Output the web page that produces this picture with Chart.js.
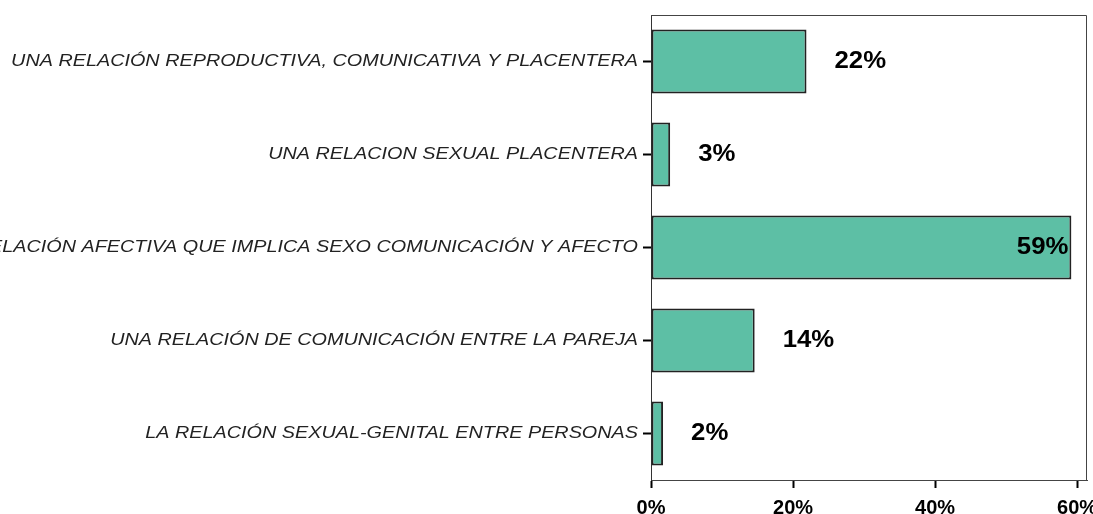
<!DOCTYPE html>
<html>
<head>
<meta charset="utf-8">
<script src="https://cdn.jsdelivr.net/npm/chart.js@4/dist/chart.umd.min.js"></script>
<style>
  html, body { margin: 0; padding: 0; background: #fff; }
  #wrap { width: 1093px; height: 514px; }
</style>
</head>
<body>
<div id="wrap"><canvas id="myChart" width="1093" height="514"></canvas></div>
<script>
// Datos del gráfico
const categorias = [
  'UNA RELACIÓN REPRODUCTIVA, COMUNICATIVA Y PLACENTERA',
  'UNA RELACION SEXUAL PLACENTERA',
  'UNA RELACIÓN AFECTIVA QUE IMPLICA SEXO COMUNICACIÓN Y AFECTO',
  'UNA RELACIÓN DE COMUNICACIÓN ENTRE LA PAREJA',
  'LA RELACIÓN SEXUAL-GENITAL ENTRE PERSONAS'
];
const porcentajes = [21.9, 2.7, 59.2, 14.6, 1.7];
const etiquetas = ['22%', '3%', '59%', '14%', '2%'];
const ticksX = [0, 20, 40, 60];

// Texto estirado en horizontal (como en la imagen original)
function textoAncho(ctx, txt, x, y, escala, align) {
  ctx.save();
  ctx.translate(x, y);
  ctx.scale(escala, 1);
  ctx.textAlign = align;
  ctx.fillText(txt, 0, 0);
  ctx.restore();
}

// Plugin: marco del área, etiquetas del eje Y y etiquetas de valor
const marcoYEtiquetas = {
  id: 'marcoYEtiquetas',
  afterDraw(chart) {
    const { ctx, chartArea, scales } = chart;
    ctx.save();
    ctx.strokeStyle = '#444';
    ctx.lineWidth = 1;
    ctx.beginPath();
    ctx.moveTo(chartArea.left, chartArea.top + 0.5);
    ctx.lineTo(chartArea.right - 0.5, chartArea.top + 0.5);
    ctx.lineTo(chartArea.right - 0.5, chartArea.bottom);
    ctx.stroke();

    // etiquetas de categoría
    ctx.font = 'italic 17px "Liberation Sans", Arial, sans-serif';
    ctx.fillStyle = '#222';
    ctx.textBaseline = 'middle';
    categorias.forEach((c, i) => {
      const y = scales.y.getPixelForTick(i);
      textoAncho(ctx, c, chartArea.left - 13, y, 1.165, 'right');
    });

    // etiquetas de valor
    const meta = chart.getDatasetMeta(0);
    ctx.font = 'bold 23px "Liberation Sans", Arial, sans-serif';
    ctx.fillStyle = '#000';
    meta.data.forEach((bar, i) => {
      const txt = etiquetas[i];
      const w = ctx.measureText(txt).width * 1.12;
      if (bar.x + 28 + w > chartArea.right) {
        textoAncho(ctx, txt, bar.x - 3, bar.y, 1.12, 'right');
      } else {
        textoAncho(ctx, txt, bar.x + 28, bar.y, 1.12, 'left');
      }
    });
    ctx.restore();
  }
};

const ctx = document.getElementById('myChart').getContext('2d');
const chart = new Chart(ctx, {
  type: 'bar',
  data: {
    labels: categorias,
    datasets: [{
      data: porcentajes,
      backgroundColor: '#5dbfa5',
      borderColor: '#222',
      borderWidth: 2,
      borderSkipped: false,
      categoryPercentage: 1,
      barPercentage: 0.69
    }]
  },
  options: {
    indexAxis: 'y',
    responsive: false,
    animation: false,
    layout: { padding: { top: 15, right: 6, left: 0, bottom: 0 } },
    plugins: {
      legend: { display: false },
      tooltip: { enabled: false }
    },
    scales: {
      x: {
        min: 0,
        max: 61.4,
        afterBuildTicks: (axis) => { axis.ticks = ticksX.map(v => ({ value: v })); },
        afterFit: (axis) => {
          axis.height = 34;
          axis.paddingLeft = 0;
          axis.paddingRight = 0;
        },
        grid: { drawOnChartArea: false, drawTicks: true, tickLength: 8, tickWidth: 2, tickColor: '#000' },
        border: { color: '#444', width: 1 },
        ticks: {
          callback: (v) => v + '%',
          maxRotation: 0,
          autoSkip: false,
          padding: 8,
          color: '#000',
          font: { family: '"Liberation Sans Narrow", "Liberation Sans", Arial, sans-serif', size: 20, weight: 'bold' }
        }
      },
      y: {
        afterFit: (axis) => { axis.width = 651; },
        grid: { offset: false, drawOnChartArea: false, drawTicks: true, tickLength: 8, tickWidth: 2, tickColor: '#000' },
        border: { color: '#333', width: 1 },
        ticks: { display: false }
      }
    }
  },
  plugins: [marcoYEtiquetas]
});
</script>
</body>
</html>
